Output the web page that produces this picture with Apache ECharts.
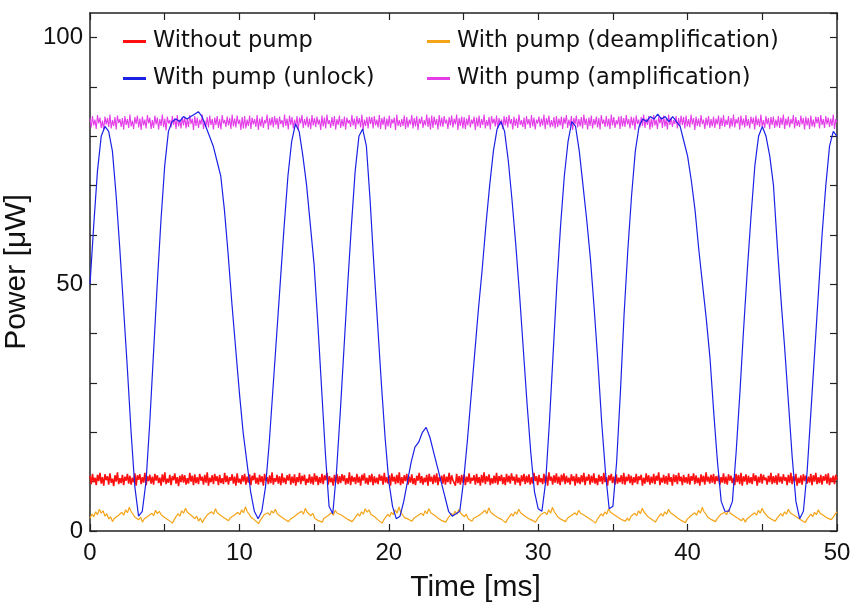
<!DOCTYPE html>
<html>
<head>
<meta charset="utf-8">
<script src="https://cdn.jsdelivr.net/npm/echarts@6/dist/echarts.min.js"></script>
<style>html,body{margin:0;padding:0;background:#fff}#chart{width:851px;height:605px}</style>
</head>
<body>
<div id="chart"></div>
<script>
// Tick labels
const xTickLabels = [0, 10, 20, 30, 40, 50];
const yTickLabels = [0, 50, 100];
const seriesNames = ['Without pump', 'With pump (deamplification)', 'With pump (unlock)', 'With pump (amplification)'];

// With pump (unlock): samples every 0.25 ms from 0 to 50 ms
const unlockStep = 0.25;
const unlockPower = [
50,62,73,80,82,81,77,68,57,45,33,20,9,3,4,10,22,36,50,63,
74,81,83,83.5,83,84,83.5,84,84.5,85,84,82,80,78,75,72,65,56,46,37,
28,20,14,8,4,2.5,4,9,18,29,40,51,62,72,79,82.5,81,76,70,62,
54,42,29,16,5,3.5,12,24,37,50,62,73,80,81.5,78,67,54,42,30,19,
10,5,2.5,3,6,10,14,17,18,20,21,19,16,13,10,7,4,3,3.5,4,
10,18,27,36,45,53,62,70,77,81.5,83,81,75,67,58,48,37,26,16,8,
4.5,4,10,22,36,50,62,72,79,83,82,77,70,63,55,45,34,22,12,4.5,
5,14,28,44,57,68,77,82,83.5,83,84,83.5,84.5,83.5,84,83,84,83,82,79,
76,71,65,57,50,43,35,24,14,6,4,4,6,16,28,41,53,64,74,80,
82,80,76,70,58,47,37,26,15,6,2.5,4,12,24,36,48,60,70,78,81,
80
];

// Without pump: evenly sampled over 0-50 ms
const withoutPumpPower = [
11.2,9.5,11.6,9.9,10.8,9.3,11.4,10.1,11.8,9.6,10.9,9.2,11.5,10.3,11.1,9.4,11.7,9.8,10.6,9.1,11.3,10.0,11.9,9.5,10.7,
9.7,11.4,9.3,11.0,10.2,11.6,9.6,11.2,9.4,10.8,9.9,11.7,9.2,11.3,10.4,11.5,9.5,10.9,9.8,11.8,9.3,11.1,10.1,11.4,9.6,
11.0,9.4,11.6,10.2,11.3,9.7,10.8,9.2,11.5,9.9,11.9,9.5,10.6,9.8,11.4,9.3,11.1,10.3,11.7,9.6,10.9,9.1,11.2,9.9,11.5,
9.8,11.3,9.4,10.7,9.6,11.8,10.0,11.2,9.3,11.5,9.7,10.9,9.5,11.6,10.2,11.0,9.4,11.4,9.8,11.9,9.2,10.8,9.9,11.3,9.5,
11.6,10.1,11.1,9.3,11.4,9.7,10.7,9.5,11.8,9.9,11.2,9.4,10.9,10.2,11.5,9.6,11.0,9.2,11.7,9.8,10.6,9.5,11.3,10.0,11.6,
9.4,11.0,9.8,11.5,9.3,11.2,10.3,11.8,9.6,10.8,9.4,11.4,9.9,11.1,9.2,11.6,10.1,10.9,9.5,11.3,9.7,11.9,9.4,10.7,10.0,
11.4,9.6,11.1,9.3,11.7,9.8,10.8,9.5,11.3,10.2,11.6,9.4,11.0,9.7,11.5,9.2,10.9,9.9,11.8,9.5,11.2,10.1,11.4,9.3,10.6,
9.8,11.5,9.6,11.0,9.4,11.7,10.0,11.2,9.3,10.9,9.7,11.6,9.5,11.3,10.3,11.8,9.4,11.1,9.9,10.8,9.2,11.4,9.8,11.6,9.5,
11.1,9.7,11.5,10.1,11.3,9.4,10.7,9.6,11.9,9.3,11.2,10.0,10.9,9.5,11.6,9.8,11.0,9.2,11.4,10.2,11.7,9.6,10.8,9.4,11.3,
9.9,11.6,9.3,11.1,9.7,10.8,9.5,11.5,10.2,11.2,9.4,11.8,9.8,10.9,9.6,11.3,9.2,11.7,10.0,11.0,9.5,11.4,9.7,11.9,9.3,
10.9,9.6,11.3,10.1,11.6,9.4,11.0,9.8,11.5,9.5,10.7,9.3,11.2,10.2,11.8,9.7,11.1,9.4,10.8,9.9,11.4,9.2,11.6,10.0,11.0,
9.5,11.4,9.8,11.7,9.3,10.9,10.1,11.2,9.6,11.5,9.4,11.0,9.9,11.8,9.5,11.3,10.3,10.7,9.2,11.6,9.7,11.1,9.4,11.4,9.8,
11.5,9.3,11.0,9.9,11.7,9.6,10.8,10.2,11.3,9.4,11.6,9.7,10.9,9.2,11.4,9.8,11.9,9.5,11.1,10.0,11.5,9.3,10.7,9.6,11.2,
9.7,11.8,9.4,11.1,10.1,11.4,9.5,10.9,9.3,11.6,9.9,11.2,9.6,11.7,10.2,11.0,9.4,11.5,9.8,10.8,9.2,11.3,10.0,11.6,9.5,
11.2,9.8,11.5,9.4,10.9,9.6,11.8,10.1,11.1,9.3,11.4,9.9,10.7,9.5,11.6,9.7,11.2,9.2,11.9,10.2,11.0,9.4,11.3,9.8,11.7,
9.6,11.0,9.3,11.4,10.0,11.7,9.5,11.2,9.8,10.8,9.4,11.5,10.1,11.1,9.2,11.6,9.7,10.9,9.5,11.3,9.9,11.8,9.3,11.0,10.2,
11.5,9.4,11.2,9.8,11.7,9.6,10.7,9.3,11.4,10.0,11.1,9.5,11.8,9.9,10.9,9.2,11.3,10.2,11.6,9.7,11.0,9.4,11.5,9.6,10.8,
9.9,11.3,9.5,11.8,9.4,11.0,10.1,11.5,9.7,11.2,9.3,10.9,9.8,11.6,9.5,11.1,10.3,11.4,9.2,10.8,9.6,11.7,9.9,11.3,9.4,
11.0,9.7,11.6,9.5,11.2,10.2,11.9,9.3,10.8,9.8,11.4,9.6,11.1,9.4,11.7,10.0,10.9,9.2,11.5,9.9,11.3,9.5,11.8,10.1,11.0,
9.3,11.4,9.8,10.9,9.6,11.6,9.4,11.1,10.2,11.7,9.5,11.3,9.7,10.8,9.2,11.5,9.9,11.2,9.4,11.9,10.0,11.0,9.6,11.4,9.8,
11.6,9.5,11.1,10.1,11.3,9.3,10.9,9.8,11.7,9.6,11.0,9.4,11.5,10.2,11.2,9.7,10.8,9.3,11.6,9.9,11.4,9.5,11.8,9.2,11.1,
10.0,11.5,9.4,11.2,9.7,10.9,9.5,11.7,10.1,11.3,9.2,11.0,9.8,11.6,9.6,11.4,10.3,10.8,9.4,11.2,9.9,11.8,9.5,11.1,9.7,
11.3,9.4,11.7,9.9,11.0,9.6,11.5,10.2,10.9,9.3,11.4,9.8,11.8,9.5,11.1,10.0,11.6,9.2,10.8,9.7,11.3,9.4,11.5,10.1,11.2,
9.6,11.0,9.8,11.6,9.3,11.3,10.0,11.8,9.5,10.9,9.7,11.4,9.4,11.1,10.2,11.5,9.6,11.7,9.3,10.8,9.9,11.2,9.5,11.4,10.4
];

// With pump (amplification): evenly sampled over 0-50 ms
const amplificationPower = [
83.6,81.8,84.1,82.2,83.4,81.5,84.3,82.6,83.8,81.7,83.2,81.3,84.0,82.4,83.7,81.9,84.4,81.6,83.3,82.1,83.9,81.4,84.2,82.7,83.5,
81.9,83.7,81.4,84.1,82.3,83.5,81.7,84.4,82.0,83.2,81.5,83.9,82.5,84.2,81.8,83.6,81.3,84.0,82.2,83.4,81.6,84.3,82.6,83.8,81.5,
83.3,81.7,84.2,82.4,83.8,81.4,83.5,82.1,84.4,81.9,83.6,81.2,84.0,82.6,83.3,81.8,84.1,82.3,83.7,81.5,84.3,82.0,83.4,81.6,83.9,
82.2,84.0,81.6,83.5,81.9,84.3,82.5,83.6,81.3,84.1,82.1,83.8,81.7,83.4,82.4,84.4,81.5,83.2,82.0,83.9,81.8,84.2,82.3,83.5,81.4,
83.8,82.3,84.1,81.7,83.5,81.4,84.3,82.6,83.3,81.9,84.0,82.2,83.7,81.5,84.4,82.0,83.6,81.8,84.2,82.5,83.4,81.3,83.9,81.6,84.1,
81.6,83.4,82.1,84.2,81.5,83.8,82.4,83.5,81.9,84.3,81.3,83.6,82.0,84.0,81.7,83.3,82.6,84.4,81.4,83.7,82.2,83.9,81.8,84.1,82.3,
83.7,81.5,84.0,82.5,83.3,81.8,84.4,82.1,83.6,81.4,84.2,82.3,83.9,81.6,83.4,82.0,84.1,81.3,83.8,82.6,84.3,81.7,83.5,82.2,84.0,
81.8,83.6,81.5,84.3,82.2,83.7,81.9,84.0,82.4,83.4,81.3,84.2,82.0,83.8,81.6,84.4,82.5,83.3,81.7,83.9,82.1,84.1,81.4,83.5,82.3,
84.2,81.7,83.5,82.0,84.0,81.4,83.8,82.6,83.3,81.9,84.3,82.2,83.6,81.5,84.1,82.4,83.7,81.8,84.4,81.3,83.4,82.1,83.9,81.6,84.0,
82.5,83.9,81.6,84.1,82.2,83.4,81.8,84.3,81.5,83.7,82.3,84.0,81.4,83.6,82.0,84.2,81.7,83.5,82.6,83.8,81.3,84.4,82.1,83.3,81.9,
83.5,82.1,84.2,81.5,83.9,81.8,83.4,82.4,84.3,81.6,83.7,82.0,84.1,81.3,83.6,82.5,84.0,81.7,83.3,82.2,84.4,81.9,83.8,81.4,84.2,
81.7,84.0,82.3,83.5,81.4,84.3,82.0,83.8,81.9,84.1,82.6,83.4,81.5,83.9,82.2,84.2,81.8,83.6,82.4,84.4,81.3,83.7,82.1,84.0,81.6,
83.9,81.5,83.6,82.2,84.3,81.8,83.4,82.5,84.0,81.3,83.8,82.0,84.2,81.7,83.5,82.3,84.4,81.6,83.3,82.1,83.9,81.4,84.1,82.6,83.6,
82.0,84.2,81.6,83.7,82.4,83.4,81.5,84.1,82.2,83.9,81.8,84.3,82.5,83.5,81.4,84.0,82.1,83.6,81.7,84.4,82.3,83.3,81.9,83.8,81.5,
84.1,82.4,83.5,81.7,84.3,82.0,83.8,81.4,83.4,82.6,84.0,81.9,83.6,82.2,84.4,81.5,83.7,82.3,84.2,81.8,83.3,82.0,83.9,81.6,84.1,
81.9,83.6,82.2,84.0,81.5,83.8,82.5,84.3,81.7,83.4,82.1,84.1,81.3,83.7,82.4,84.2,81.8,83.5,82.0,83.9,81.6,84.4,82.3,83.6,81.4,
83.8,82.1,84.2,81.6,83.5,82.3,84.0,81.8,83.7,81.4,84.3,82.5,83.4,81.9,84.1,82.0,83.6,81.5,84.4,82.2,83.9,81.7,83.3,82.4,84.0,
81.5,84.1,82.0,83.7,81.9,84.3,82.4,83.5,81.6,84.0,82.2,83.8,81.3,84.2,82.5,83.4,81.8,83.9,82.1,84.4,81.7,83.6,82.3,84.1,81.4,
83.6,81.8,84.3,82.2,83.4,81.5,84.0,82.6,83.9,81.7,84.2,82.0,83.5,81.4,84.4,82.3,83.8,81.9,83.3,82.5,84.1,81.6,83.7,82.1,84.2,
82.3,83.9,81.6,84.2,82.0,83.5,81.8,84.4,82.4,83.7,81.3,84.0,82.1,83.6,81.9,84.3,82.5,83.4,81.5,83.8,82.2,84.1,81.7,83.5,82.0,
84.0,81.7,83.6,82.4,84.2,81.5,83.8,82.1,84.3,81.9,83.4,82.3,84.1,81.6,83.7,82.0,84.4,81.8,83.5,82.6,83.9,81.4,84.2,82.2,83.6,
81.8,84.3,82.1,83.5,81.6,84.0,82.5,83.8,81.4,84.2,82.2,83.6,81.9,84.4,82.0,83.3,81.7,84.1,82.4,83.7,81.5,83.9,82.3,84.0,81.7,
83.4,82.0,84.1,81.7,83.8,82.3,84.4,81.5,83.6,82.2,84.0,81.8,83.5,82.5,84.3,81.6,83.9,82.1,83.3,81.9,84.2,82.4,83.7,81.4,84.0,
82.2,83.7,81.5,84.2,82.0,83.4,81.8,84.0,82.6,83.9,81.6,84.3,82.3,83.5,81.7,84.1,82.4,83.8,81.9,83.6,82.1,84.4,81.5,83.5,82.8
];

// With pump (deamplification): evenly sampled over 0-50 ms
const deamplificationPower = [
2.6,3.4,2.9,3.9,3.3,4.4,3.6,4.1,3.0,3.5,2.4,2.9,1.9,2.6,2.2,3.1,2.7,3.8,3.2,4.3,3.7,4.8,3.9,3.4,2.8,
3.2,2.3,2.8,1.8,2.5,2.1,3.0,2.6,3.6,3.1,4.2,3.5,4.0,3.3,3.7,2.7,3.1,2.2,2.6,1.6,2.3,2.9,3.5,3.0,4.1,
3.6,4.6,3.8,4.2,3.2,3.6,2.5,3.0,2.0,2.6,1.7,2.4,2.9,3.4,3.0,3.9,3.4,4.5,3.7,4.0,3.1,3.5,2.6,2.9,2.1,
2.7,2.3,3.2,2.8,3.8,3.3,4.3,3.7,4.9,3.9,3.4,2.8,3.1,2.2,2.5,1.5,2.2,2.7,3.3,2.9,3.7,3.2,4.1,3.6,4.4,
3.5,3.9,2.9,3.3,2.4,2.8,1.9,2.4,2.0,2.9,2.5,3.5,3.1,4.0,3.4,4.6,3.8,4.2,3.1,3.6,2.6,3.0,2.1,2.5,1.8,
2.6,2.2,3.1,2.7,3.7,3.2,4.2,3.6,4.0,3.3,3.7,2.8,3.2,2.3,2.7,1.9,2.4,2.9,3.5,3.0,3.9,3.4,4.5,3.8,4.3,
3.4,3.8,2.9,3.3,2.2,2.6,1.6,2.3,2.8,3.4,2.9,3.8,3.3,4.3,3.6,4.9,3.8,3.4,2.7,3.1,2.4,2.8,2.0,2.6,2.2,
3.1,2.7,3.6,3.1,4.1,3.5,4.5,3.7,4.1,3.2,3.6,2.6,3.0,2.1,2.5,1.8,2.5,3.0,3.6,3.1,4.0,3.4,4.4,3.6,3.9,
2.9,3.4,2.5,2.9,2.0,2.6,2.2,3.0,2.6,3.5,3.1,4.2,3.5,4.7,3.8,4.2,3.2,3.6,2.7,3.1,2.3,2.7,1.7,2.4,2.9,
3.5,3.0,3.9,3.4,4.4,3.7,4.0,3.1,3.5,2.6,3.0,2.2,2.6,1.8,2.5,2.9,3.4,3.0,3.8,3.3,4.3,3.6,4.8,3.9,3.5,
2.8,3.2,2.3,2.7,1.9,2.6,2.2,3.1,2.7,3.7,3.2,4.2,3.6,4.0,3.2,3.6,2.7,3.1,2.2,2.6,1.6,2.4,2.9,3.5,3.0,
3.9,3.4,4.5,3.8,4.2,3.3,3.7,2.8,3.2,2.3,2.7,2.0,2.6,2.1,3.0,2.6,3.6,3.1,4.1,3.5,4.6,3.8,3.4,2.9,3.3,
2.4,2.8,1.8,2.5,2.9,3.5,3.0,3.9,3.4,4.4,3.7,4.1,3.2,3.6,2.6,3.0,2.1,2.5,1.7,2.4,2.2,3.1,2.7,3.7,3.2,
4.2,3.6,4.8,3.9,3.4,2.8,3.2,2.3,2.7,1.9,2.5,2.9,3.4,3.0,3.8,3.3,4.3,3.6,4.0,3.1,3.5,2.6,3.0,2.1,2.6,
1.8,2.5,2.2,3.1,2.7,3.7,3.2,4.2,3.6,4.6,3.8,3.4,2.9,3.3,2.4,2.8,2.0,2.6,2.9,3.5,3.0,3.9,3.4,4.4,3.7,
4.1,3.2,3.6,2.7,3.1,2.2,2.6,1.7,2.4,2.8,3.4,2.9,3.8,3.3,4.3,3.6,4.0,3.1,3.5,2.6,3.0,2.3,2.8,3.4,3.9
];

function evenly(values, span) {
  const step = span / (values.length - 1);
  return values.map((v, i) => [i * step, v]);
}
const timeSpan = 50;

const chart = echarts.init(document.getElementById('chart'), null, {renderer: 'canvas'});

const frameColor = '#222';
const axisFont = 'Liberation Sans';
const legendFont = 'DejaVu Sans';

function xAxisCfg(pos, withLabels) {
  return {
    type: 'value', position: pos, min: 0, max: 50, interval: 5,
    axisLine: {show: true, onZero: false, lineStyle: {color: frameColor, width: 1.5}},
    axisTick: {show: true, inside: true, length: 7, lineStyle: {color: frameColor, width: 1.2}},
    splitLine: {show: false},
    axisLabel: {
      show: withLabels, margin: 10, color: '#111', fontFamily: axisFont, fontSize: 24,
      formatter: v => xTickLabels.indexOf(v) >= 0 ? String(v) : ''
    },
    name: withLabels ? 'Time [ms]' : '',
    nameLocation: 'middle', nameGap: 42,
    nameTextStyle: {color: '#111', fontFamily: axisFont, fontSize: 30, padding: [0, 0, 0, 24]}
  };
}
function yAxisCfg(pos, withLabels) {
  return {
    type: 'value', position: pos, min: 0, max: 105, interval: 10,
    axisLine: {show: true, onZero: false, lineStyle: {color: frameColor, width: 1.5}},
    axisTick: {show: true, inside: true, length: 7, lineStyle: {color: frameColor, width: 1.2}},
    splitLine: {show: false},
    axisLabel: {
      show: withLabels, margin: 7, color: '#111', fontFamily: axisFont, fontSize: 24,
      showMaxLabel: false,
      formatter: v => yTickLabels.indexOf(v) >= 0 ? String(v) : ''
    },
    name: withLabels ? 'Power [μW]' : '',
    nameLocation: 'middle', nameGap: 47, nameRotate: 90,
    nameTextStyle: {color: '#111', fontFamily: axisFont, fontSize: 30}
  };
}

const colors = ['#ff1010', '#f5a418', '#1a22e6', '#e43de8'];

function legendCfg(name, left, top) {
  return {
    data: [name], left: left, top: top, orient: 'horizontal',
    icon: 'rect', itemWidth: 23, itemHeight: 3, itemGap: 0,
    textStyle: {fontFamily: legendFont, fontSize: 22.5, color: '#111', padding: [0, 0, 0, 2]},
    selectedMode: false
  };
}

const option = {
  animation: false,
  backgroundColor: '#fff',
  grid: {left: 90, right: 14, top: 13, bottom: 74, containLabel: false, outerBoundsMode: 'none'},
  xAxis: [xAxisCfg('bottom', true), xAxisCfg('top', false)],
  yAxis: [yAxisCfg('left', true), yAxisCfg('right', false)],
  legend: [
    legendCfg(seriesNames[0], 118, 25),
    legendCfg(seriesNames[1], 422, 25),
    legendCfg(seriesNames[2], 118, 62),
    legendCfg(seriesNames[3], 422, 62)
  ],
  series: [
    {name: seriesNames[0], type: 'line', data: evenly(withoutPumpPower, timeSpan), showSymbol: false, symbol: 'none',
     lineStyle: {color: colors[0], width: 1.6}, itemStyle: {color: colors[0]}},
    {name: seriesNames[1], type: 'line', data: evenly(deamplificationPower, timeSpan), showSymbol: false, symbol: 'none',
     lineStyle: {color: colors[1], width: 1.2}, itemStyle: {color: colors[1]}},
    {name: seriesNames[3], type: 'line', data: evenly(amplificationPower, timeSpan), showSymbol: false, symbol: 'none',
     lineStyle: {color: colors[3], width: 1.1}, itemStyle: {color: colors[3]}},
    {name: seriesNames[2], type: 'line', data: unlockPower.map((v, i) => [i * unlockStep, v]), showSymbol: false, symbol: 'none',
     lineStyle: {color: colors[2], width: 1.2}, itemStyle: {color: colors[2]}}
  ]
};
chart.setOption(option);
</script>
</body>
</html>
